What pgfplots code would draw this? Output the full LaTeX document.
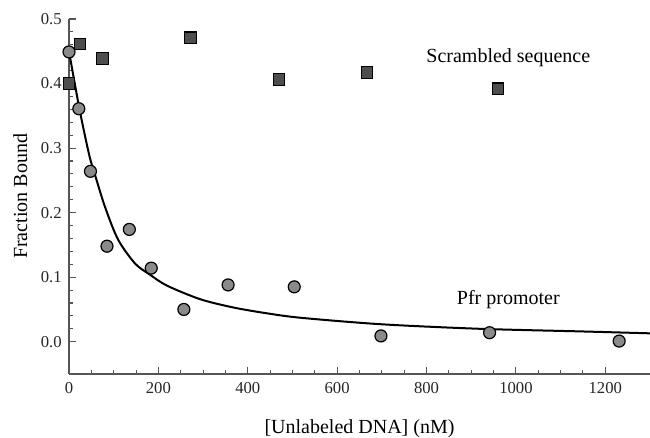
\documentclass[border=0pt]{standalone}
\usepackage{fontspec}
\setmainfont{Liberation Serif}
\usepackage{pgfplots}
\pgfplotsset{compat=1.18}

\definecolor{circfill}{HTML}{8A8A8A}
\definecolor{sqfill}{HTML}{4E4E4E}
\definecolor{axgray}{HTML}{555555}

\begin{document}
\begin{tikzpicture}
\begin{axis}[
  scale only axis,
  width=435.75pt, height=266.25pt,
  xmin=0, xmax=1300,
  ymin=-0.05, ymax=0.5,
  axis lines=left,
  axis line style={-, axgray, line width=0.9pt},
  tick align=inside,
  tick style={axgray, line width=0.8pt},
  major tick length=5pt,
  minor tick length=3pt,
  xtick={0,200,...,1200},
  minor x tick num=3,
  ytick={0,0.1,0.2,0.3,0.4,0.5},
  minor y tick num=4,
  yticklabel style={/pgf/number format/.cd, fixed, fixed zerofill, precision=1,
    /tikz/.cd, xshift=-2pt},
  xticklabel style={/pgf/number format/1000 sep={}, yshift=-3pt},
  /pgf/number format/assume math mode=true,
  tick label style={font=\fontsize{12.5}{14}\selectfont, text=black!85},
  xlabel={[Unlabeled DNA] (nM)},
  ylabel={Fraction Bound},
  every axis x label/.style={at={(rel axis cs:0.5,0)}, anchor=center,
    yshift=-41pt, font=\fontsize{15}{17}\selectfont},
  every axis y label/.style={at={(rel axis cs:0,0.5)}, anchor=center,
    xshift=-36.5pt, rotate=90, font=\fontsize{15}{17}\selectfont},
  clip=false,
]
% fitted curve
\addplot[black, line width=1.5pt, smooth, tension=0.5] coordinates {
  (0,0.450) (23,0.362) (45,0.290) (58,0.259) (81,0.208) (110,0.158)
  (148,0.121) (181,0.104) (219,0.087) (293,0.066) (368,0.053) (443,0.044)
  (520,0.037) (700,0.027) (920,0.020) (1144,0.016) (1300,0.013)
};
% Pfr promoter
\addplot[only marks, mark=*, mark size=4.5pt,
  mark options={fill=circfill, draw=black, line width=0.9pt}] coordinates {
  (0,0.449) (22,0.361) (48,0.264) (85,0.148) (135,0.174) (184,0.114)
  (257,0.050) (356,0.088) (504,0.085) (698,0.009) (941,0.014) (1231,0.001)
};
% scrambled sequence
\addplot[only marks, mark=square*, mark size=4.3pt,
  mark options={fill=sqfill, draw=black, line width=0.8pt}] coordinates {
  (0,0.400) (25,0.461) (75,0.439) (272,0.471) (470,0.406) (667,0.417) (960,0.392)
};
\node[font=\fontsize{15}{17}\selectfont] at (axis cs:983,0.440) {Scrambled sequence};
\node[font=\fontsize{15}{17}\selectfont] at (axis cs:983,0.066) {Pfr promoter};
\coordinate (sw) at (rel axis cs:0,0);
\coordinate (ne) at (rel axis cs:1,1);
\end{axis}
\pgfresetboundingbox
\path ([xshift=-51.75pt,yshift=-48pt]sw) rectangle ([yshift=14.25pt]ne);
\end{tikzpicture}
\end{document}
